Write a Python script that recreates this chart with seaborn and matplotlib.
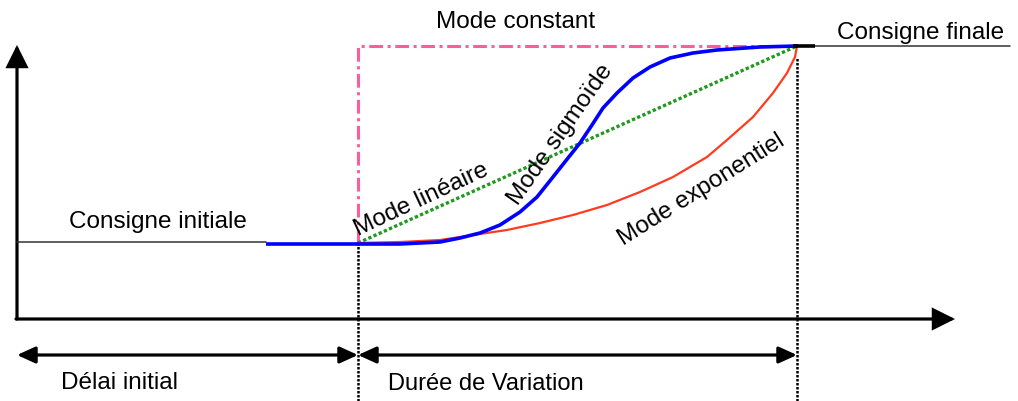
import matplotlib
matplotlib.use("Agg")
import matplotlib.pyplot as plt
from matplotlib.patches import FancyArrowPatch
import seaborn as sns

# ============ Data (time / setpoint, arbitrary units) ============
T_START = 17          # origin of the time axis
T0 = 358              # end of initial delay
T1 = 797              # end of variation
T_AXIS_END = 955
V_BASE = 82           # level of the time axis
V_INIT = 158          # initial setpoint
V_FINAL = 355         # final setpoint
V_AXIS_TOP = 356

sig_t = [358, 400, 440, 460, 480, 500, 520, 537, 553, 568, 580, 592, 603, 617, 633, 650, 670, 693, 717, 760, 797]
sig_v = [157, 157, 159, 163, 168, 176, 189, 204, 224, 243, 258, 276, 293, 308, 323, 334, 343, 348, 351, 354, 355]

exp_t = [358, 400, 440, 473, 507, 540, 573, 607, 640, 673, 707, 727, 753, 773, 787, 795, 797]
exp_v = [158, 159, 161, 166, 171, 178, 186, 196, 209, 224, 244, 261, 284, 308, 328, 344, 355]

lin_t = [T0, T1]
lin_v = [V_INIT, V_FINAL]

const_t = [T0, T0, T1]
const_v = [V_INIT, V_FINAL, V_FINAL]

# ============ Style ============
sns.set_style("white")
plt.rcParams["font.family"] = ["Liberation Sans", "DejaVu Sans"]
plt.rcParams["text.color"] = "black"
FS = 17.5

fig = plt.figure(figsize=(10.18, 4.01), dpi=100)
ax = fig.add_axes([0, 0, 1, 1])
ax.set_xlim(0, 1018)
ax.set_ylim(0, 401)
ax.axis("off")

# thin setpoint lines
ax.plot([T_START, 266], [V_INIT + 1, V_INIT + 1], color="#333333", lw=1.1)
ax.plot([815, 1010], [V_FINAL, V_FINAL], color="#333333", lw=1.1)

# dotted time markers
ax.plot([T0, T0], [0, V_INIT], color="black", lw=1.8, ls=(0, (1, 0.6)))
ax.plot([T1, T1], [0, V_FINAL - 12], color="black", lw=1.8, ls=(0, (1, 0.6)))

# modes
sns.lineplot(x=const_t, y=const_v, sort=False, estimator=None, ax=ax,
             color="#ff5c9a", lw=2.2, ls=(0, (4.5, 1.5, 1, 1.5)))
sns.lineplot(x=lin_t, y=lin_v, sort=False, estimator=None, ax=ax,
             color="#1f9a1f", lw=2.4, ls=(0, (1, 0.7)))
sns.lineplot(x=exp_t, y=exp_v, sort=False, estimator=None, ax=ax,
             color="#ff3b1f", lw=1.6)
ax.plot([266, T0], [V_INIT - 1, V_INIT - 1], color="#0000ff", lw=2.6, solid_capstyle="butt")
sns.lineplot(x=sig_t, y=sig_v, sort=False, estimator=None, ax=ax,
             color="#0000ff", lw=2.6)
ax.plot([T1 - 4, 815], [V_FINAL, V_FINAL], color="black", lw=2.6, solid_capstyle="butt")

# axes arrows
for start, end, hl, hw in [((T_START, V_BASE), (T_START, V_AXIS_TOP), 13, 6.5),
                           ((T_START - 1, V_BASE), (T_AXIS_END, V_BASE), 13, 6.5)]:
    ax.add_patch(FancyArrowPatch(start, end, arrowstyle=f"-|>,head_length={hl},head_width={hw}",
                                 mutation_scale=1, lw=2.3, color="black",
                                 shrinkA=0, shrinkB=0, joinstyle="miter"))

# duration arrows
for a, b in [(T_START, T0), (T0, T1)]:
    ax.add_patch(FancyArrowPatch((a, 46), (b, 46), arrowstyle="<|-|>,head_length=11,head_width=5",
                                 mutation_scale=1, lw=2.3, color="black",
                                 shrinkA=0, shrinkB=0))

# labels
ax.text(158, 179, "Consigne initiale", fontsize=FS, ha="center", va="center")
ax.text(921, 368, "Consigne finale", fontsize=FS, ha="center", va="center")
ax.text(516, 379, "Mode constant", fontsize=FS, ha="center", va="center")
ax.text(120, 18, "Délai initial", fontsize=FS, ha="center", va="center")
ax.text(486, 17, "Durée de Variation", fontsize=FS - 0.5, ha="center", va="center")
ax.text(421, 201, "Mode linéaire", fontsize=FS, ha="center", va="center",
        rotation=25, rotation_mode="anchor")
ax.text(561, 266, "Mode sigmoïde", fontsize=FS, ha="center", va="center",
        rotation=55, rotation_mode="anchor")
ax.text(701, 211, "Mode exponentiel", fontsize=FS, ha="center", va="center",
        rotation=32, rotation_mode="anchor")

fig.savefig("out.png", dpi=100)
